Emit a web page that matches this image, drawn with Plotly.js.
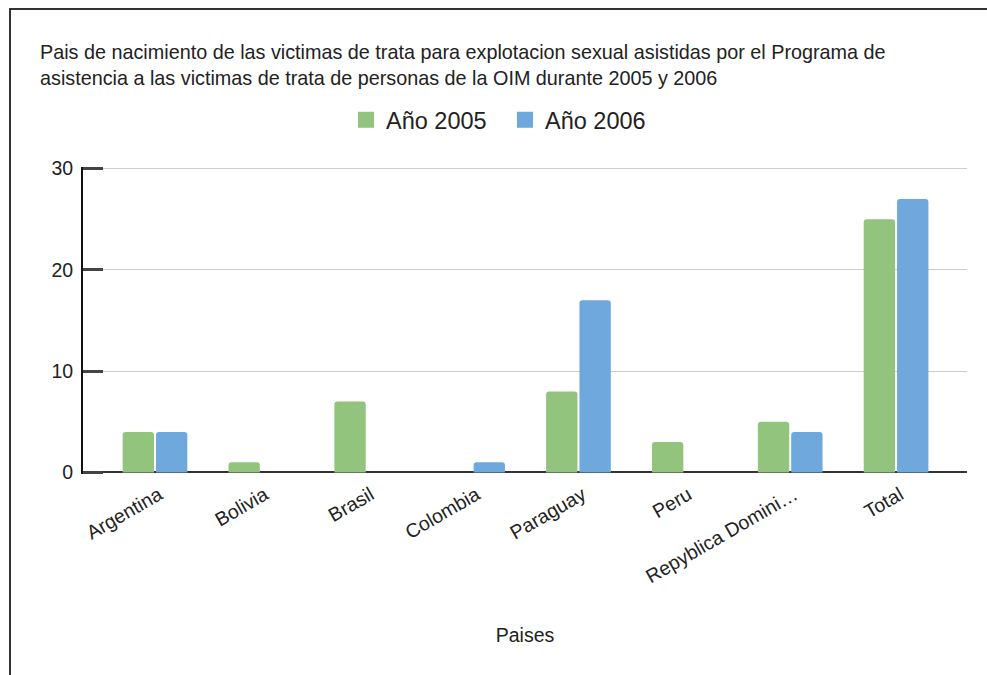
<!DOCTYPE html>
<html><head><meta charset="utf-8">
<script src="https://cdn.plot.ly/plotly-3.0.1.min.js"></script>
<style>
html,body{margin:0;padding:0;width:987px;height:675px;overflow:hidden;background:#fff;}
#frame{position:absolute;left:9px;top:8px;width:1000px;height:700px;border:2px solid #333;box-sizing:border-box;}
#chart{position:absolute;left:0;top:0;width:987px;height:675px;}
</style></head>
<body>
<div id="frame"></div>
<div id="chart"></div>
<script>
const categories = ["Argentina","Bolivia","Brasil","Colombia","Paraguay","Peru","Repyblica Domini…","Total"];
const values2005 = [4,1,7,0,8,3,5,25];
const values2006 = [4,0,0,1,17,0,4,27];
const seriesNames = ["Año 2005","Año 2006"];
const seriesColors = ["#93c47d","#6fa8dc"];
const yTicks = [0,10,20,30];
const titleLines = ["Pais de nacimiento de las victimas de trata para explotacion sexual asistidas por el Programa de",
                    "asistencia a las victimas de trata de personas de la OIM durante 2005 y 2006"];

const FONT = "Arial, 'Liberation Sans', sans-serif";
const TXT = "#222";
const series = [values2005, values2006];
const traces = [];
series.forEach((vals,i)=>{
  traces.push({type:"bar", name:seriesNames[i], x:categories, y:vals, legendgroup:"g"+i, showlegend:false,
    marker:{color:seriesColors[i], cornerradius:3}});
});
// legend entries (square symbols like the reference)
series.forEach((vals,i)=>{
  traces.push({type:"scatter", mode:"markers", name:seriesNames[i], x:[categories[0]], y:[null], legendgroup:"g"+i,
    marker:{symbol:"square", size:16, color:seriesColors[i]}, hoverinfo:"skip"});
});
const layout = {
  width:987, height:675,
  paper_bgcolor:"rgba(0,0,0,0)", plot_bgcolor:"rgba(0,0,0,0)",
  margin:{l:83, r:20, t:166.5, b:200.5},
  font:{family:FONT, color:TXT},
  title:{text:titleLines.join("<br>"),
    x:40/987, xref:"container", xanchor:"left", y:1-59/675, yref:"container", yanchor:"top",
    font:{size:19.8, family:FONT, color:TXT}},
  legend:{orientation:"h", xref:"container", yref:"container", x:505/987, xanchor:"center", y:1-120/675, yanchor:"middle",
    font:{size:23.5, family:FONT, color:TXT}, itemwidth:30, entrywidth:114, entrywidthmode:"pixels", traceorder:"normal"},
  barmode:"group", bargap:0.37, bargroupgap:0.06,
  xaxis:{type:"category", range:[-0.68,7.67], showline:false,
    ticks:"", tickangle:-30, tickfont:{size:19.5, family:FONT, color:TXT}, ticklabelstandoff:5, ticklabelshift:4,
    title:{text:"Paises", font:{size:19.5, family:FONT, color:TXT}, standoff:42},
    showgrid:false, zeroline:false, fixedrange:true},
  yaxis:{range:[-0.15,30.15], tickvals:yTicks, showline:true, linecolor:"#111", linewidth:2,
    ticks:"inside", ticklen:20, tickwidth:3, tickcolor:"#444", ticklabelstandoff:4,
    tickfont:{size:19.5, family:FONT, color:TXT},
    showgrid:true, gridcolor:"#cccccc", gridwidth:1,
    zeroline:true, zerolinecolor:"#333", zerolinewidth:2, fixedrange:true}
};
Plotly.newPlot("chart", traces, layout, {displayModeBar:false, staticPlot:true});
</script>
</body></html>
